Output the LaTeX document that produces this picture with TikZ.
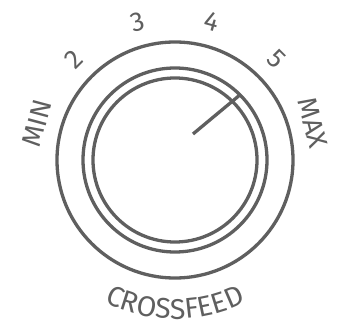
\documentclass[tikz,border=0pt]{standalone}
\usepackage{fontspec}
\setmainfont{Fira Sans}
\usetikzlibrary{decorations.text}
\definecolor{knob}{HTML}{5F5F5F}
\newcommand{\dialfont}{\fontsize{27}{27}\selectfont}
\newcommand{\namefont}{\fontsize{28.5}{28.5}\selectfont}

\begin{document}
\begin{tikzpicture}[x=1pt,y=1pt,
  ring/.style={draw=knob,line width=3.3pt},
  dial/.style={text=knob,font=\dialfont,inner sep=0pt}]
\useasboundingbox (-175,-166) rectangle (169,160);
% knob rings
\draw[ring] (0,0) circle[radius=118];
\draw[ring] (0,0) circle[radius=92];
\draw[ring] (0,0) circle[radius=82];
% pointer
\coordinate (base) at (18,26);
\coordinate (tip) at (45:93);
\draw[ring] (base) -- (tip);
% scale labels
\foreach \lab/\ang in {MIN/165,2/135,3/105,4/75,5/45,MAX/15}
  \node[dial,rotate=\ang-90] (lab-\ang) at (\ang:143) {\lab};
% name along the lower arc
\path[decorate,decoration={text along path,text align=center,text color=knob,
  text={|\namefont|CROSSFEED}}]
  (205:159) arc[start angle=205,end angle=335,radius=159];
\end{tikzpicture}
\end{document}
